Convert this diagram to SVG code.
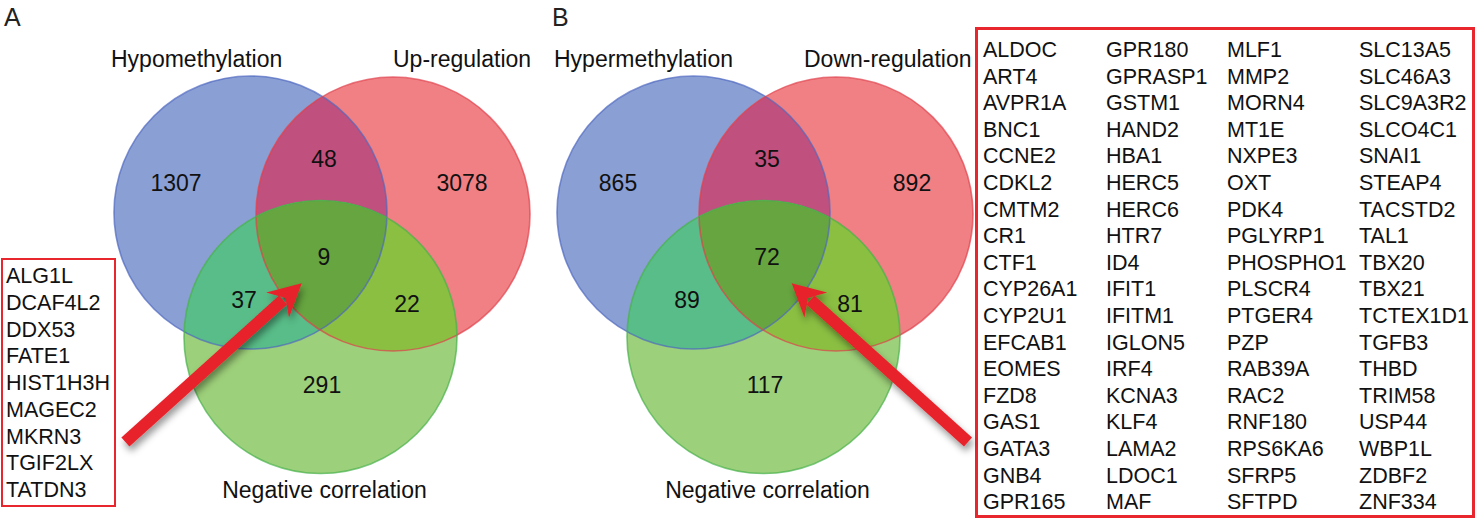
<svg xmlns="http://www.w3.org/2000/svg" width="1477" height="521" viewBox="0 0 1477 521">
<style>
text{font-family:"Liberation Sans",Arial,sans-serif;fill:#111}
.pl{font-size:25px;fill:#222}
.lb{font-size:23px}
.num{font-size:23px;text-anchor:middle}
.gene{font-size:21.5px}
.box{fill:#fff;stroke:#e8262e}
.oB{fill:none;stroke:#4e68c0;stroke-width:1.6;stroke-opacity:.7}
.oR{fill:none;stroke:#e0404c;stroke-width:1.6;stroke-opacity:.7}
.oG{fill:none;stroke:#46b04a;stroke-width:1.6;stroke-opacity:.7}
.arr{fill:#e8222a;stroke:none}
.shaft{stroke:#e8222a;stroke-width:12;fill:none}
</style>
<defs>
<clipPath id="cbA"><circle cx="250.5" cy="212.5" r="136.5"/></clipPath>
<clipPath id="crA"><circle cx="393" cy="214" r="137"/></clipPath>
<clipPath id="cbB"><circle cx="693.5" cy="212.5" r="136.5"/></clipPath>
<clipPath id="crB"><circle cx="836" cy="214" r="137"/></clipPath>
<filter id="sh" x="-20%" y="-20%" width="150%" height="150%">
<feGaussianBlur in="SourceAlpha" stdDeviation="3.5"/>
<feOffset dx="2" dy="5" result="b"/>
<feFlood flood-color="#000" flood-opacity="0.4"/>
<feComposite in2="b" operator="in"/>
<feMerge><feMergeNode/><feMergeNode in="SourceGraphic"/></feMerge>
</filter>
</defs>
<rect width="1477" height="521" fill="#fff"/>

<text class="pl" x="4" y="26">A</text>
<text class="pl" x="552" y="26">B</text>

<g id="vennA">
<g id="A-hypomethylation">
<circle cx="250.5" cy="212.5" r="136.5" fill="#8a9fd4"/>
</g>
<g id="A-upregulation">
<circle cx="393" cy="214" r="137" fill="#f08084"/>
<circle cx="393" cy="214" r="137" fill="#c0507e" clip-path="url(#cbA)"/>
</g>
<g id="A-negcorrelation">
<circle cx="320.5" cy="337" r="136.5" fill="#9dd07a"/>
<circle cx="320.5" cy="337" r="136.5" fill="#58bd88" clip-path="url(#cbA)"/>
<circle cx="320.5" cy="337" r="136.5" fill="#8abf42" clip-path="url(#crA)"/>
<g clip-path="url(#crA)"><circle cx="320.5" cy="337" r="136.5" fill="#66a540" clip-path="url(#cbA)"/></g>
</g>
<circle class="oB" cx="250.5" cy="212.5" r="136.5"/>
<circle class="oR" cx="393" cy="214" r="137"/>
<circle class="oG" cx="320.5" cy="337" r="136.5"/>
<text class="lb" x="111" y="67">Hypomethylation</text>
<text class="lb" x="393" y="67">Up-regulation</text>
<text class="lb" x="324.5" y="498" text-anchor="middle">Negative correlation</text>
<text class="num" x="176" y="191">1307</text>
<text class="num" x="324" y="167">48</text>
<text class="num" x="462" y="191">3078</text>
<text class="num" x="324" y="265">9</text>
<text class="num" x="244" y="308">37</text>
<text class="num" x="407" y="312">22</text>
<text class="num" x="322" y="393">291</text>
</g>

<g id="vennB">
<g id="B-hypermethylation">
<circle cx="693.5" cy="212.5" r="136.5" fill="#8a9fd4"/>
</g>
<g id="B-downregulation">
<circle cx="836" cy="214" r="137" fill="#f08084"/>
<circle cx="836" cy="214" r="137" fill="#c0507e" clip-path="url(#cbB)"/>
</g>
<g id="B-negcorrelation">
<circle cx="763.5" cy="337" r="136.5" fill="#9dd07a"/>
<circle cx="763.5" cy="337" r="136.5" fill="#58bd88" clip-path="url(#cbB)"/>
<circle cx="763.5" cy="337" r="136.5" fill="#8abf42" clip-path="url(#crB)"/>
<g clip-path="url(#crB)"><circle cx="763.5" cy="337" r="136.5" fill="#66a540" clip-path="url(#cbB)"/></g>
</g>
<circle class="oB" cx="693.5" cy="212.5" r="136.5"/>
<circle class="oR" cx="836" cy="214" r="137"/>
<circle class="oG" cx="763.5" cy="337" r="136.5"/>
<text class="lb" x="554" y="67">Hypermethylation</text>
<text class="lb" x="804" y="67">Down-regulation</text>
<text class="lb" x="767.5" y="498" text-anchor="middle">Negative correlation</text>
<text class="num" x="618" y="191">865</text>
<text class="num" x="767" y="167">35</text>
<text class="num" x="912" y="191">892</text>
<text class="num" x="767" y="265">72</text>
<text class="num" x="687" y="308">89</text>
<text class="num" x="850" y="312">81</text>
<text class="num" x="765" y="393">117</text>
</g>

<g id="genesA">
<rect class="box" x="2" y="259" width="113" height="247" stroke-width="2"/>
<text class="gene" x="6" y="283">
<tspan x="6" dy="0">ALG1L</tspan><tspan x="6" dy="26.75">DCAF4L2</tspan><tspan x="6" dy="26.75">DDX53</tspan><tspan x="6" dy="26.75">FATE1</tspan><tspan x="6" dy="26.75">HIST1H3H</tspan><tspan x="6" dy="26.75">MAGEC2</tspan><tspan x="6" dy="26.75">MKRN3</tspan><tspan x="6" dy="26.75">TGIF2LX</tspan><tspan x="6" dy="26.75">TATDN3</tspan>
</text>
</g>

<g id="genesB">
<rect class="box" x="976.5" y="28.5" width="497" height="488" stroke-width="3"/>
<text class="gene" x="983" y="57">
<tspan x="983" dy="0">ALDOC</tspan><tspan x="983" dy="26.6">ART4</tspan><tspan x="983" dy="26.6">AVPR1A</tspan><tspan x="983" dy="26.6">BNC1</tspan><tspan x="983" dy="26.6">CCNE2</tspan><tspan x="983" dy="26.6">CDKL2</tspan><tspan x="983" dy="26.6">CMTM2</tspan><tspan x="983" dy="26.6">CR1</tspan><tspan x="983" dy="26.6">CTF1</tspan><tspan x="983" dy="26.6">CYP26A1</tspan><tspan x="983" dy="26.6">CYP2U1</tspan><tspan x="983" dy="26.6">EFCAB1</tspan><tspan x="983" dy="26.6">EOMES</tspan><tspan x="983" dy="26.6">FZD8</tspan><tspan x="983" dy="26.6">GAS1</tspan><tspan x="983" dy="26.6">GATA3</tspan><tspan x="983" dy="26.6">GNB4</tspan><tspan x="983" dy="26.6">GPR165</tspan>
</text>
<text class="gene" x="1106" y="57">
<tspan x="1106" dy="0">GPR180</tspan><tspan x="1106" dy="26.6">GPRASP1</tspan><tspan x="1106" dy="26.6">GSTM1</tspan><tspan x="1106" dy="26.6">HAND2</tspan><tspan x="1106" dy="26.6">HBA1</tspan><tspan x="1106" dy="26.6">HERC5</tspan><tspan x="1106" dy="26.6">HERC6</tspan><tspan x="1106" dy="26.6">HTR7</tspan><tspan x="1106" dy="26.6">ID4</tspan><tspan x="1106" dy="26.6">IFIT1</tspan><tspan x="1106" dy="26.6">IFITM1</tspan><tspan x="1106" dy="26.6">IGLON5</tspan><tspan x="1106" dy="26.6">IRF4</tspan><tspan x="1106" dy="26.6">KCNA3</tspan><tspan x="1106" dy="26.6">KLF4</tspan><tspan x="1106" dy="26.6">LAMA2</tspan><tspan x="1106" dy="26.6">LDOC1</tspan><tspan x="1106" dy="26.6">MAF</tspan>
</text>
<text class="gene" x="1227" y="57">
<tspan x="1227" dy="0">MLF1</tspan><tspan x="1227" dy="26.6">MMP2</tspan><tspan x="1227" dy="26.6">MORN4</tspan><tspan x="1227" dy="26.6">MT1E</tspan><tspan x="1227" dy="26.6">NXPE3</tspan><tspan x="1227" dy="26.6">OXT</tspan><tspan x="1227" dy="26.6">PDK4</tspan><tspan x="1227" dy="26.6">PGLYRP1</tspan><tspan x="1227" dy="26.6">PHOSPHO1</tspan><tspan x="1227" dy="26.6">PLSCR4</tspan><tspan x="1227" dy="26.6">PTGER4</tspan><tspan x="1227" dy="26.6">PZP</tspan><tspan x="1227" dy="26.6">RAB39A</tspan><tspan x="1227" dy="26.6">RAC2</tspan><tspan x="1227" dy="26.6">RNF180</tspan><tspan x="1227" dy="26.6">RPS6KA6</tspan><tspan x="1227" dy="26.6">SFRP5</tspan><tspan x="1227" dy="26.6">SFTPD</tspan>
</text>
<text class="gene" x="1359" y="57">
<tspan x="1359" dy="0">SLC13A5</tspan><tspan x="1359" dy="26.6">SLC46A3</tspan><tspan x="1359" dy="26.6">SLC9A3R2</tspan><tspan x="1359" dy="26.6">SLCO4C1</tspan><tspan x="1359" dy="26.6">SNAI1</tspan><tspan x="1359" dy="26.6">STEAP4</tspan><tspan x="1359" dy="26.6">TACSTD2</tspan><tspan x="1359" dy="26.6">TAL1</tspan><tspan x="1359" dy="26.6">TBX20</tspan><tspan x="1359" dy="26.6">TBX21</tspan><tspan x="1359" dy="26.6">TCTEX1D1</tspan><tspan x="1359" dy="26.6">TGFB3</tspan><tspan x="1359" dy="26.6">THBD</tspan><tspan x="1359" dy="26.6">TRIM58</tspan><tspan x="1359" dy="26.6">USP44</tspan><tspan x="1359" dy="26.6">WBP1L</tspan><tspan x="1359" dy="26.6">ZDBF2</tspan><tspan x="1359" dy="26.6">ZNF334</tspan>
</text>
</g>

<g id="connectors">
<g id="arrowA" filter="url(#sh)">
<line class="shaft" x1="125.4" y1="442" x2="283" y2="300"/>
<polygon class="arr" points="301.7,283.3 266.2,292.4 285.4,298 289,317.6"/>
</g>
<g id="arrowB" filter="url(#sh)">
<line class="shaft" x1="968" y1="442" x2="810.4" y2="300"/>
<polygon class="arr" points="791.7,283.3 827.2,292.4 808,298 804.4,317.6"/>
</g>
</g>
</svg>
